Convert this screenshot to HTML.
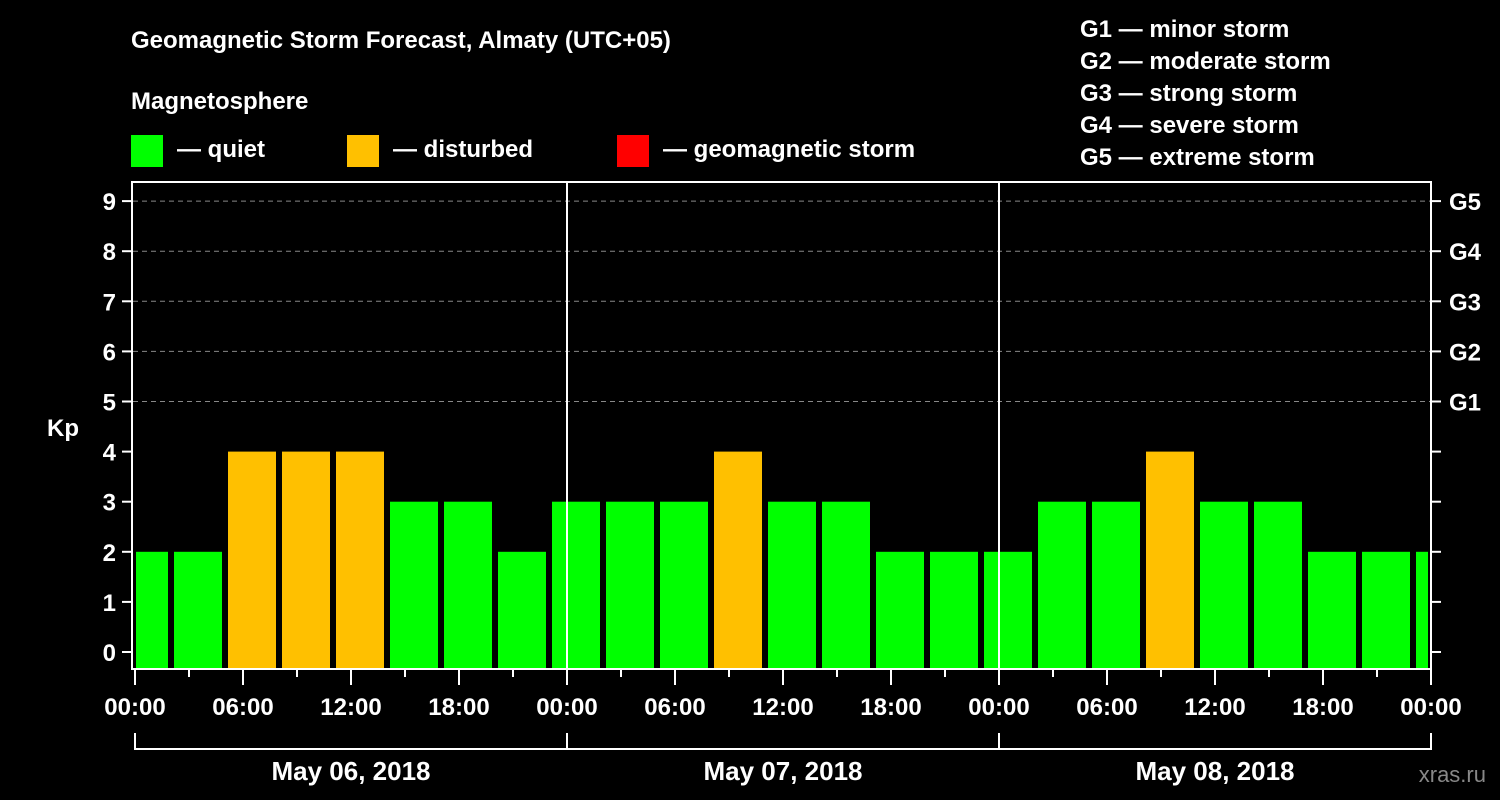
<!DOCTYPE html>
<html><head><meta charset="utf-8"><style>
body{margin:0;background:#000;}
svg{display:block;font-family:"Liberation Sans",sans-serif;font-weight:bold;}
</style></head><body>
<svg id="chart" width="1500" height="800" viewBox="0 0 1500 800">
<rect width="1500" height="800" fill="#000"/>
<text x="131" y="48" font-size="24" fill="#fff">Geomagnetic Storm Forecast, Almaty (UTC+05)</text>
<text x="131" y="109" font-size="24" fill="#fff">Magnetosphere</text>
<g><rect x="131" y="135" width="32" height="32" fill="#00ff00"/><text x="177" y="157" font-size="24" fill="#fff">— quiet</text></g>
<g><rect x="347" y="135" width="32" height="32" fill="#ffc000"/><text x="393" y="157" font-size="24" fill="#fff">— disturbed</text></g>
<g><rect x="617" y="135" width="32" height="32" fill="#ff0000"/><text x="663" y="157" font-size="24" fill="#fff">— geomagnetic storm</text></g>
<g font-size="24" fill="#fff">
<text x="1080" y="37">G1 — minor storm</text>
<text x="1080" y="69">G2 — moderate storm</text>
<text x="1080" y="101">G3 — strong storm</text>
<text x="1080" y="133">G4 — severe storm</text>
<text x="1080" y="165">G5 — extreme storm</text>
</g>
<text x="63" y="436" font-size="24" fill="#fff" text-anchor="middle">Kp</text>
<text x="1486" y="782" font-size="22" fill="#888" text-anchor="end" font-weight="normal">xras.ru</text>
<g id="grid"></g><g id="bars"></g><g id="axes"></g>
</svg>
<script>
const kpValues=[2,2,4,4,4,3,3,2,3,3,3,4,3,3,2,2,2,3,3,4,3,3,2,2,2];
const yTicks=[0,1,2,3,4,5,6,7,8,9];
const gLabels=["G1","G2","G3","G4","G5"];
const timeLabels=["00:00","06:00","12:00","18:00","00:00","06:00","12:00","18:00","00:00","06:00","12:00","18:00","00:00"];
const dayLabels=["May 06, 2018","May 07, 2018","May 08, 2018"];
const firstBarStartHour=-1; // bars at 23:00-02:00 local etc (UTC+5)
const NS="http://www.w3.org/2000/svg";
const X0=135,X1=1431,PXH=18,TOP=182,BOT=669;
const xs=h=>X0+h*PXH;
const ys=v=>652-v*50.1;
function mk(tag,attrs,parent){const e=document.createElementNS(NS,tag);for(const k in attrs)e.setAttribute(k,attrs[k]);parent.appendChild(e);return e;}
const grid=document.getElementById('grid'),bars=document.getElementById('bars'),axes=document.getElementById('axes');
yTicks.forEach(v=>{
 if(v>=5){const l=mk('line',{x1:133,x2:X1,y1:ys(v),y2:ys(v),stroke:'#888','stroke-dasharray':'5,4','stroke-width':1},grid);
 
 }
 const t=mk('line',{x1:122,x2:131,y1:ys(v),y2:ys(v),stroke:'#fff','stroke-width':2},axes);
 
 
 const tr=mk('line',{x1:X1,x2:1441,y1:ys(v),y2:ys(v),stroke:'#fff','stroke-width':2},axes);
 
 
 const tx=mk('text',{x:116,y:ys(v)+9,'font-size':24,fill:'#fff','text-anchor':'end'},axes);tx.textContent=v;
 
 
 if(v>=5){const g=mk('text',{x:1449,y:ys(v)+9,'font-size':24,fill:'#fff'},axes);g.textContent=gLabels[v-5];
 
 }
});
kpValues.forEach((v,i)=>{
 let a=xs(firstBarStartHour+i*3)+3,b=xs(firstBarStartHour+i*3+3)-3;
 a=Math.max(a,136);b=Math.min(b,1428);
 const r=mk('rect',{x:a,y:ys(v),width:b-a,height:BOT-ys(v),fill:v>=5?'#ff0000':(v>=4?'#ffc000':'#00ff00')},bars);
 
 
});
[1,2].forEach(d=>{const l=mk('line',{x1:xs(d*24),x2:xs(d*24),y1:TOP,y2:BOT,stroke:'#fff','stroke-width':2},axes);
 
 });
const frame=mk('rect',{x:132,y:TOP,width:X1-132,height:BOT-TOP,fill:'none',stroke:'#fff','stroke-width':2},axes);


for(let h=0;h<=72;h+=3){const major=h%6===0;
 const t=mk('line',{x1:xs(h),x2:xs(h),y1:BOT,y2:major?685:677,stroke:'#fff','stroke-width':2},axes);
 
 }
timeLabels.forEach((s,i)=>{const t=mk('text',{x:xs(i*6),y:715,'font-size':24,fill:'#fff','text-anchor':'middle'},axes);t.textContent=s;
 
 });
const br=mk('path',{d:`M${xs(0)},733V749H${xs(72)}V733M${xs(24)},733V749M${xs(48)},733V749`,stroke:'#fff','stroke-width':2,fill:'none'},axes);


dayLabels.forEach((s,i)=>{const t=mk('text',{x:xs(i*24+12),y:780,'font-size':26,fill:'#fff','text-anchor':'middle'},axes);t.textContent=s;
 
 });
</script>
</body></html>
